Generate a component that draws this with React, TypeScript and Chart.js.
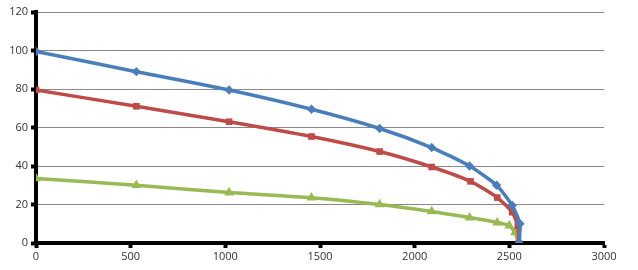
import React, { useEffect, useRef } from "react";
import { Chart, registerables } from "chart.js";

Chart.register(...registerables);

const blueX = [0, 530, 1020, 1455, 1815, 2090, 2290, 2433, 2515, 2556, 2552];
const blueY = [99.5, 89, 79.5, 69.5, 59.5, 49.6, 40, 30, 19.5, 10, 0];
const redX = [0, 530, 1020, 1455, 1815, 2090, 2295, 2436, 2515, 2545, 2550];
const redY = [79.5, 71, 63, 55.3, 47.5, 39.5, 32, 23.6, 16, 9, 0];
const greenX = [0, 530, 1020, 1455, 1815, 2090, 2290, 2436, 2500, 2530, 2548];
const greenY = [33.5, 30, 26.2, 23.5, 20, 16.4, 13.2, 10.6, 9, 5.5, 0];

const xTicks = [0, 500, 1000, 1500, 2000, 2500, 3000];
const yTicks = [0, 20, 40, 60, 80, 100, 120];

const pts = (xs: number[], ys: number[]) => xs.map((x, i) => ({ x, y: ys[i] }));

export default function App() {
  const ref = useRef<HTMLCanvasElement>(null);
  useEffect(() => {
    document.body.style.margin = "0";
    const font = { family: "'Open Sans', 'DejaVu Sans', sans-serif", size: 11 };
    const common = {
      showLine: true,
      borderWidth: 3.5,
      pointRadius: 2.2,
      tension: 0.2,
    };
    const chart = new Chart(ref.current!, {
      type: "scatter",
      data: {
        datasets: [
          {
            ...common,
            data: pts(blueX, blueY),
            borderColor: "#4A7EBB",
            backgroundColor: "#4A7EBB",
            pointStyle: "rectRot",
          },
          {
            ...common,
            data: pts(redX, redY),
            borderColor: "#BE4B48",
            backgroundColor: "#BE4B48",
            pointStyle: "rect",
          },
          {
            ...common,
            data: pts(greenX, greenY),
            borderColor: "#98B954",
            backgroundColor: "#98B954",
            pointStyle: "triangle",
          },
        ],
      },
      options: {
        animation: false,
        responsive: false,
        maintainAspectRatio: false,
        layout: { padding: { left: 0, right: 34, top: 12, bottom: 0 } },
        plugins: { legend: { display: false }, tooltip: { enabled: false } },
        scales: {
          x: {
            type: "linear",
            min: 0,
            max: 3000,
            afterBuildTicks: (s: any) => {
              s.ticks = xTicks.map((v) => ({ value: v }));
            },
            afterFit: (s: any) => {
              s.height = 27;
            },
            grid: {
              drawOnChartArea: false,
              tickLength: 5,
              tickWidth: 4,
              tickColor: "#000",
            },
            border: { color: "#000", width: 4 },
            ticks: {
              color: "#333",
              font,
              padding: 2,
              maxRotation: 0,
              callback: (v: any) => String(v),
            },
          },
          y: {
            min: 0,
            max: 120,
            afterBuildTicks: (s: any) => {
              s.ticks = yTicks.map((v) => ({ value: v }));
            },
            afterFit: (s: any) => {
              s.width = 36;
            },
            grid: {
              color: "#888",
              lineWidth: 1,
              tickLength: 5,
              tickWidth: 4,
              tickColor: "#000",
            },
            border: { color: "#000", width: 4 },
            ticks: { color: "#333", font, padding: 3, callback: (v: any) => String(v) },
          },
        },
      },
    });
    return () => chart.destroy();
  }, []);
  return <canvas ref={ref} width={638} height={270} style={{ display: "block" }} />;
}
